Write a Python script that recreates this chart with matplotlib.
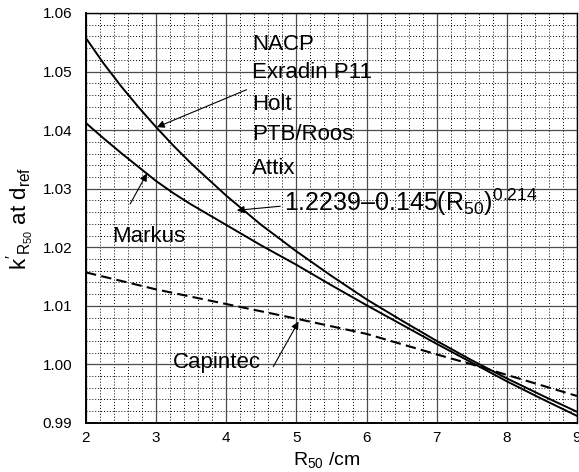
import matplotlib
matplotlib.use("Agg")
import matplotlib.pyplot as plt
from matplotlib.ticker import MultipleLocator

plt.rcParams['font.family'] = ['Liberation Sans', 'DejaVu Sans']
plt.rcParams['mathtext.fontset'] = 'custom'
plt.rcParams['mathtext.rm'] = 'Liberation Sans'
plt.rcParams['mathtext.it'] = 'Liberation Sans'

# values
r50_fit = [2.0, 2.25, 2.5, 2.75, 3.0, 3.25, 3.5, 4.0, 4.5, 5.0, 5.5, 6.0,
           6.5, 7.0, 7.5, 8.0, 8.5, 9.0]
k_fit = [1.0557, 1.0514, 1.0475, 1.0439, 1.0405, 1.0373, 1.0343, 1.0288,
         1.0238, 1.0193, 1.0151, 1.0111, 1.0075, 1.0040, 1.0007, 0.9976,
         0.9947, 0.9919]

r50_markus = [2.0, 2.25, 2.5, 2.75, 3.0, 3.25, 3.5, 4.0, 4.5, 5.0, 5.5, 6.0,
              6.5, 7.0, 7.5, 8.0, 8.5, 9.0]
k_markus = [1.0412, 1.0386, 1.0361, 1.0337, 1.0313, 1.0292, 1.0273, 1.0238,
            1.0203, 1.0170, 1.0135, 1.0101, 1.0068, 1.0035, 1.0003, 0.9971,
            0.9941, 0.9912]

r50_capintec = [2.0, 3.0, 4.0, 5.0, 6.0, 7.0, 7.5, 8.0, 9.0]
k_capintec = [1.0157, 1.0128, 1.0103, 1.0078, 1.0052, 1.0017, 1.0000, 0.9982, 0.9946]

chamber_names = ["NACP", "Exradin P11", "Holt", "PTB/Roos", "Attix"]
chamber_y = [1.0546, 1.0498, 1.0443, 1.0393, 1.0335]

fig = plt.figure(figsize=(5.79, 4.72), dpi=100)
ax = fig.add_axes([0.1485, 0.104, 0.8480, 0.8685])

ax.plot(r50_fit, k_fit, color='black', lw=1.4)
ax.plot(r50_markus, k_markus, color='black', lw=1.4)
ax.plot(r50_capintec, k_capintec, color='black', lw=1.5, dashes=(5, 2.5))

ax.set_xlim(2, 9)
ax.set_ylim(0.99, 1.06)
ax.xaxis.set_major_locator(MultipleLocator(1))
ax.xaxis.set_minor_locator(MultipleLocator(0.2))
ax.yaxis.set_major_locator(MultipleLocator(0.01))
ax.yaxis.set_minor_locator(MultipleLocator(0.002))
ax.set_yticklabels([f"{v:.2f}" for v in ax.get_yticks()])

ax.grid(which='major', color='0.3', lw=0.9)
ax.grid(which='minor', color='black', lw=0.7, ls=(0, (1, 2)))
ax.set_axisbelow(True)
ax.tick_params(which='both', length=0)
ax.tick_params(axis='y', labelsize=11, pad=10)
ax.tick_params(axis='x', labelsize=11, pad=6)
for s in ax.spines.values():
    s.set_color('black')
    s.set_linewidth(1.0)
ax.spines['left'].set_linewidth(1.4)
ax.spines['bottom'].set_linewidth(1.4)

ax.set_xlabel(r"R$_\mathregular{50}$ /cm", fontsize=14, labelpad=4)
ax.xaxis.set_label_coords(0.49, -0.065, transform=ax.transAxes)
ax.set_ylabel(r"$\mathregular{k'_{R_{50}}}$ at d$_\mathregular{ref}$", fontsize=16, labelpad=4)

for name, y in zip(chamber_names, chamber_y):
    ax.text(4.37, y, name, fontsize=16, va='center', ha='left')

ax.text(4.82, 1.0276, r"1.2239–0.145(R$_\mathregular{50}$)$^\mathregular{0.214}$",
        fontsize=18, va='center', ha='left')
ax.text(2.37, 1.0219, "Markus", fontsize=16, va='center', ha='left')
ax.text(3.24, 1.0003, "Capintec", fontsize=16, va='center', ha='left')

arrow = dict(arrowstyle='-|>', lw=0.8, color='black', mutation_scale=11,
             shrinkA=0, shrinkB=0)
ax.annotate("", xy=(3.01, 1.0405), xytext=(4.29, 1.0469), arrowprops=arrow)
ax.annotate("", xy=(2.87, 1.0326), xytext=(2.63, 1.0274), arrowprops=arrow)
ax.annotate("", xy=(4.15, 1.0263), xytext=(4.77, 1.0270), arrowprops=arrow)
ax.annotate("", xy=(5.03, 1.0073), xytext=(4.67, 0.9996), arrowprops=arrow)

fig.savefig("out.png", dpi=100)
